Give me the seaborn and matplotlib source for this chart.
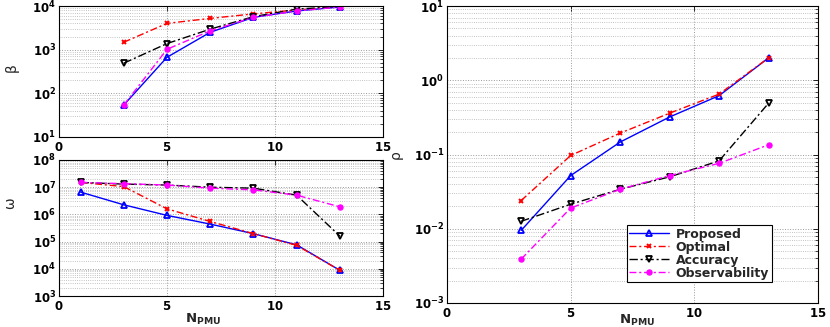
import numpy as np
import pandas as pd
import matplotlib
matplotlib.use("Agg")
import matplotlib.pyplot as plt
import seaborn as sns
from matplotlib.ticker import FuncFormatter, LogLocator, NullFormatter, FixedLocator

# ---------------- data ----------------
methods = ["Proposed", "Optimal", "Accuracy", "Observability"]
n_pmu_a = [3, 5, 7, 9, 11, 13]
n_pmu_b = [1, 3, 5, 7, 9, 11, 13]

beta_proposed = [54, 670, 2500, 5500, 7700, 9500]
beta_optimal = [1480, 4000, 5200, 6600, 8100, 9600]
beta_accuracy = [490, 1380, 2950, 5700, 8500, 9700]
beta_observability = [54, 1020, 2700, 5500, 7700, 9500]

omega_proposed = [6.6e6, 2.25e6, 9.2e5, 4.4e5, 1.96e5, 7.6e4, 8.8e3]
omega_optimal = [1.5e7, 1.05e7, 1.6e6, 5.5e5, 1.96e5, 7.3e4, 8.8e3]
omega_accuracy = [1.5e7, 1.3e7, 1.2e7, 1.0e7, 9.2e6, 5.1e6, 1.6e5]
omega_observability = [1.5e7, 1.35e7, 1.2e7, 9.2e6, 8.0e6, 5.1e6, 1.9e6]

rho_proposed = [0.0095, 0.052, 0.147, 0.32, 0.62, 2.0]
rho_optimal = [0.024, 0.097, 0.194, 0.36, 0.65, 2.0]
rho_accuracy = [0.0126, 0.0214, 0.034, 0.050, 0.082, 0.49]
rho_observability = [0.0039, 0.019, 0.034, 0.052, 0.076, 0.135]

x_ticks = [0, 5, 10, 15]

# ---------------- style ----------------
sns.set_style("white")
plt.rcParams["font.family"] = ["DejaVu Sans"]
plt.rcParams["mathtext.fontset"] = "dejavusans"

styles = {
    "Proposed": dict(color="#0000ff", linestyle="-", marker="^", markersize=5,
                     markerfacecolor="none", markeredgecolor="#0000ff",
                     markeredgewidth=1.3),
    "Optimal": dict(color="#ff0000", linestyle=(0, (5, 2, 1.5, 2)), marker="x",
                    markersize=3.5, markeredgecolor="#ff0000", markeredgewidth=1.4),
    "Accuracy": dict(color="black", linestyle=(0, (6, 2, 1.5, 2)), marker="v",
                     markersize=5, markerfacecolor="none", markeredgecolor="black",
                     markeredgewidth=1.3),
    "Observability": dict(color="#ff00ff", linestyle=(0, (5, 2, 1.5, 2)), marker="o",
                          markersize=3.6, markerfacecolor="#ff00ff",
                          markeredgecolor="#ff00ff", markeredgewidth=1.0),
}

fig = plt.figure(figsize=(8.3, 3.27), dpi=100)
ax_b = fig.add_axes([59 / 830, 1 - 137 / 327, 324 / 830, 131 / 327])
ax_w = fig.add_axes([59 / 830, 1 - 296 / 327, 324 / 830, 136 / 327])
ax_r = fig.add_axes([447 / 830, 1 - 303 / 327, 371 / 830, 297 / 327])

tick_fmt = FuncFormatter(lambda v, p: r"$\mathbf{10^{%d}}$" % int(round(np.log10(v))))
xtick_fmt = FuncFormatter(lambda v, p: r"$\mathbf{%d}$" % int(round(v)))


def draw(ax, xs, series, ylim):
    ax.set_yscale("log")
    for name, vals in zip(methods, series):
        df = pd.DataFrame({"N": xs, "v": vals})
        sns.lineplot(data=df, x="N", y="v", ax=ax, lw=1.0, label=name,
                     legend=False, **styles[name])
    ax.set_xlim(0, 15)
    ax.set_ylim(*ylim)
    ax.xaxis.set_major_locator(FixedLocator(x_ticks))
    ax.xaxis.set_major_formatter(xtick_fmt)
    ax.yaxis.set_major_locator(LogLocator(base=10, numticks=20))
    ax.yaxis.set_minor_locator(LogLocator(base=10, subs=np.arange(2, 10), numticks=20))
    ax.yaxis.set_major_formatter(tick_fmt)
    ax.yaxis.set_minor_formatter(NullFormatter())
    ax.tick_params(which="both", direction="in", top=True, right=True,
                   labelsize=8.5, colors="black")
    ax.tick_params(axis="x", pad=3)
    ax.tick_params(axis="y", pad=2)
    ax.tick_params(which="major", length=3.5, width=0.6)
    ax.tick_params(which="minor", length=2, width=0.5)
    ax.grid(True, which="major", axis="both", linestyle=":", color="#9a9a9a", lw=0.7)
    ax.grid(True, which="minor", axis="y", linestyle=":", color="#b0b0b0", lw=0.6)
    for s in ax.spines.values():
        s.set_color("black")
        s.set_linewidth(0.8)
    ax.set_xlabel("")
    ax.set_ylabel("")


draw(ax_b, n_pmu_a, [beta_proposed, beta_optimal, beta_accuracy, beta_observability], (10, 1e4))
draw(ax_w, n_pmu_b, [omega_proposed, omega_optimal, omega_accuracy, omega_observability], (1e3, 1e8))
draw(ax_r, n_pmu_a, [rho_proposed, rho_optimal, rho_accuracy, rho_observability], (1e-3, 10))

ax_b.set_ylabel("β", fontsize=10)
ax_b.yaxis.set_label_coords(-0.125, 0.53)
ax_w.set_ylabel("ω", fontsize=10)
ax_w.yaxis.set_label_coords(-0.128, 0.68)
ax_r.set_ylabel("ρ", fontsize=10)
ax_r.yaxis.set_label_coords(-0.118, 0.5)

ax_w.set_xlabel(r"$\mathbf{N_{PMU}}$", fontsize=9.5)
ax_w.xaxis.set_label_coords(0.444, -0.115)
ax_r.set_xlabel(r"$\mathbf{N_{PMU}}$", fontsize=9.5)
ax_r.xaxis.set_label_coords(0.512, -0.032)

handles = ax_r.get_lines()[:4]
leg = ax_r.legend(handles, methods, loc="upper left", bbox_to_anchor=(0.485, 0.262),
                  prop={"weight": "bold", "size": 9},
                  frameon=True, fancybox=False, edgecolor="black", framealpha=1,
                  borderpad=0.2, labelspacing=0.0, handlelength=3.2,
                  handletextpad=0.5, borderaxespad=0)
leg.get_frame().set_linewidth(0.8)

fig.savefig("out.png", dpi=100)
